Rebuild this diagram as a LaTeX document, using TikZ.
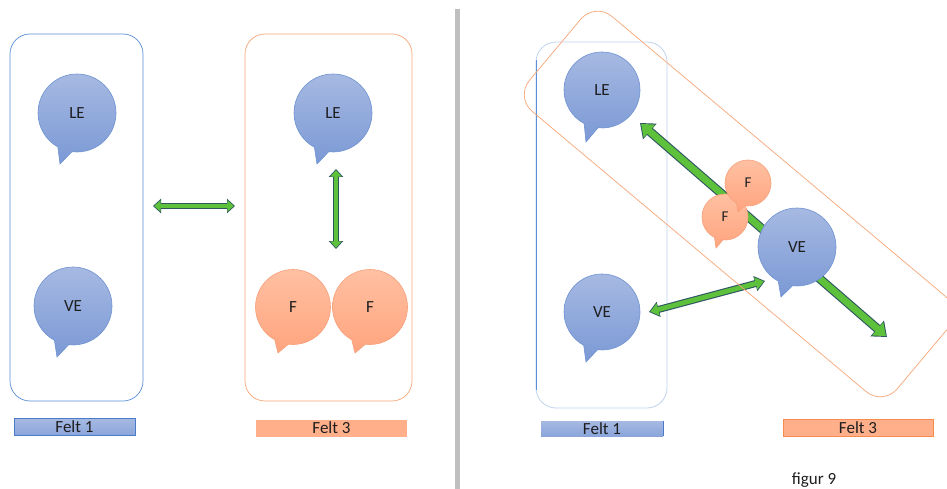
\documentclass[tikz,border=0pt]{standalone}
\usepackage{fontspec}
\setmainfont{Carlito}
\usetikzlibrary{shapes.callouts,arrows.meta}
\definecolor{bbtop}{HTML}{A6B9E2}
\definecolor{bbbot}{HTML}{7B99D5}
\definecolor{bbline}{HTML}{6F93D2}
\definecolor{obtop}{HTML}{FFC0A2}
\definecolor{obbot}{HTML}{FFA47E}
\definecolor{obline}{HTML}{F6A07A}
\definecolor{rblue}{HTML}{5A8ED8}
\definecolor{rbluefaint}{HTML}{C2D3EE}
\definecolor{rorange}{HTML}{F8A678}
\definecolor{agreen}{HTML}{5DC13C}
\definecolor{adark}{HTML}{2E5660}
\definecolor{divgray}{HTML}{BFBFBF}
\definecolor{lblblue}{HTML}{8BA5DA}
\definecolor{lblblueline}{HTML}{4A7CC9}
\definecolor{lblor}{HTML}{FFAF8A}
\definecolor{lblorline}{HTML}{F68C4E}
\definecolor{txt}{HTML}{1E1E1E}
\tikzset{
  bub/.style={ellipse callout, inner sep=0pt, minimum width=#1, minimum height=#1,
    callout pointer arc=22, font=\fontsize{17}{17}\selectfont, text=txt, line width=0.6pt},
  bubB/.style={bub=#1, top color=bbtop, bottom color=bbbot, draw=bbline},
  bubO/.style={bub=#1, top color=obtop, bottom color=obbot, draw=obline},
  bubOs/.style={bubO=#1, font=\fontsize{15}{15}\selectfont},
  fieldB/.style={draw=rblue, rounded corners=20pt, line width=0.7pt},
  fieldO/.style={draw=rorange, rounded corners=20pt, line width=0.7pt},
  lblB/.style={draw=lblblueline, top color=bbtop, bottom color=lblblue, line width=0.7pt, font=\fontsize{17}{17}\selectfont, text=txt, inner sep=0pt},
  lblO/.style={draw=lblorline, fill=lblor, line width=0.7pt, font=\fontsize{17}{17}\selectfont, text=txt, inner sep=0pt},
  arrSo/.style={draw=adark, line width=6pt, {Triangle[length=8pt,width=14pt]}-{Triangle[length=8pt,width=14pt]}},
  arrSi/.style={draw=agreen, line width=3.8pt, {Triangle[length=6.4pt,width=11pt]}-{Triangle[length=6.4pt,width=11pt]}, shorten <=1.2pt, shorten >=1.2pt},
  arrMo/.style={draw=adark, line width=7pt, {Triangle[length=10pt,width=15pt]}-{Triangle[length=10pt,width=15pt]}},
  arrMi/.style={draw=agreen, line width=4.8pt, {Triangle[length=8.2pt,width=12pt]}-{Triangle[length=8.2pt,width=12pt]}, shorten <=1.3pt, shorten >=1.3pt},
  arrLo/.style={draw=adark, line width=9pt, {Triangle[length=13pt,width=20pt]}-{Triangle[length=13pt,width=20pt]}},
  arrLi/.style={draw=agreen, line width=6.8pt, {Triangle[length=11pt,width=16.6pt]}-{Triangle[length=11pt,width=16.6pt]}, shorten <=1.4pt, shorten >=1.4pt},
}
\begin{document}
\begin{tikzpicture}[x=1pt,y=-1pt]
\useasboundingbox[fill=white] (0,0) rectangle (947,489);

% divider
\draw[divgray, line width=5pt] (457,9) -- (457,489);

% ---------- left panel ----------
\draw[fieldB] (10,34) rectangle (143,401);
\draw[fieldO] (245,34) rectangle (412,401);

\coordinate (h1) at (153,206);
\coordinate (h2) at (235,206);
\draw[arrSo] (h1) -- (h2);
\draw[arrSi] (h1) -- (h2);

\coordinate (v1) at (336,169);
\coordinate (v2) at (336,249);
\draw[arrSo] (v1) -- (v2);
\draw[arrSi] (v1) -- (v2);

\node[bubB=78pt, callout absolute pointer={(60,164)}] (le1) at (77,113) {LE};
\node[bubB=78pt, callout absolute pointer={(57,357)}] (ve1) at (73,306) {VE};
\node[bubB=78pt, callout absolute pointer={(317,164)}] (le3) at (333,113) {LE};
\node[bubO=75pt, callout absolute pointer={(278,353)}] (f3a) at (293,307) {F};
\node[bubO=75pt, callout absolute pointer={(355,353)}] (f3b) at (370,307) {F};

\node[lblB, minimum width=121pt, minimum height=17pt] (lf1) at (74.5,427) {Felt 1};
\node[lblO, minimum width=151pt, minimum height=17pt, draw=none] (lf3) at (331.5,428) {Felt 3};

% ---------- right panel ----------
\draw[draw=rbluefaint, rounded corners=20pt, line width=0.8pt] (536,42) rectangle (667,408);
\draw[rblue, line width=1pt] (536,60) -- (536,390);

\coordinate (d1) at (640,123);
\coordinate (d2) at (887,337);
\draw[arrLo] (d1) -- (d2);
\draw[arrLi] (d1) -- (d2);

\coordinate (s1) at (649,312);
\coordinate (s2) at (765,281);
\draw[arrMo] (s1) -- (s2);
\draw[arrMi] (s1) -- (s2);

\node[fieldO, rotate=-40, minimum width=480pt, minimum height=124pt, rounded corners=22pt] (felt3box) at (739,204) {};

\node[bubB=76pt, callout absolute pointer={(586,142)}] (le2) at (602,90) {LE};
\node[bubB=76pt, callout absolute pointer={(586,362)}] (ve2) at (602,312) {VE};
\node[bubB=78pt, callout absolute pointer={(781,297)}] (ve3) at (797,247) {VE};
\node[bubOs=46pt, callout absolute pointer={(716,248)}] (fl) at (725,217) {F};
\node[bubOs=46pt, callout absolute pointer={(738,212)}] (fu) at (748,183) {F};

\node[lblB, minimum width=122pt, minimum height=15pt, draw=none] (rf1) at (602,428.5) {Felt 1};
\draw[lblblueline, line width=1pt] (rf1.north east) -- (rf1.south east);
\node[lblO, minimum width=150pt, minimum height=17pt] (rf3) at (858,427.5) {Felt 3};

\node[font=\fontsize{17}{17}\selectfont, text=txt, inner sep=0pt] (fig) at (814,480) {figur 9};
\end{tikzpicture}
\end{document}
